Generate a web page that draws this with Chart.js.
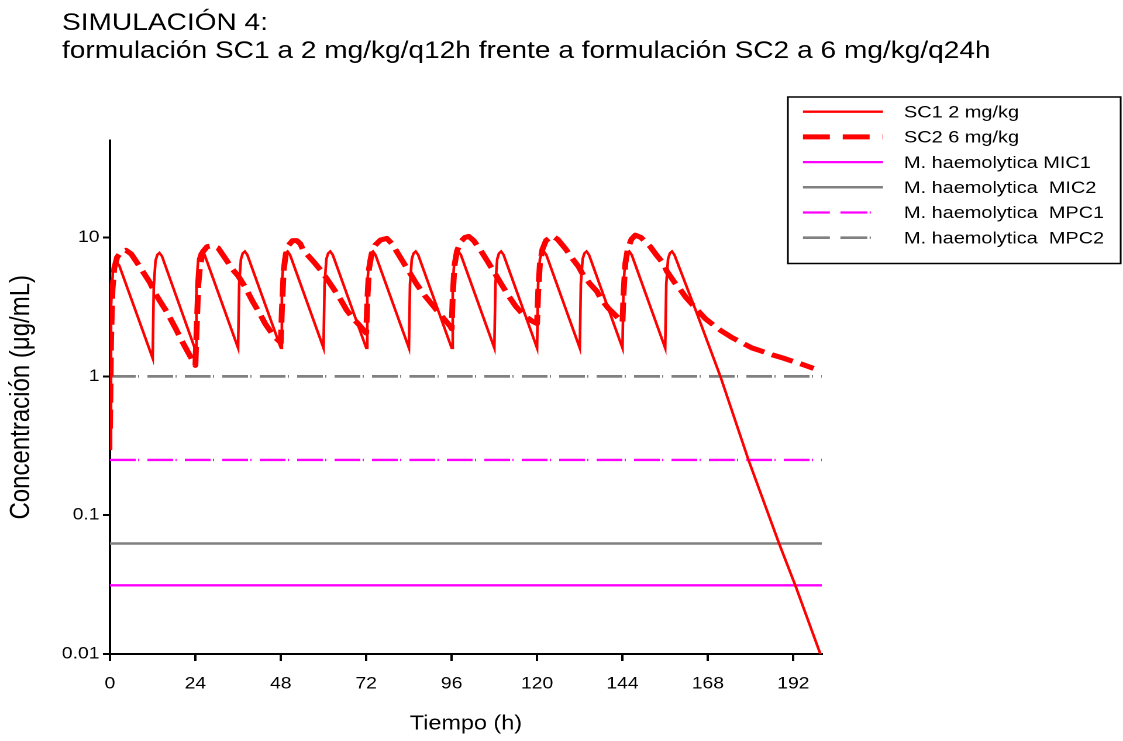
<!DOCTYPE html>
<html>
<head>
<meta charset="utf-8">
<script src="https://cdn.jsdelivr.net/npm/chart.js@4.4.1/dist/chart.umd.min.js"></script>
<style>
  html, body { margin: 0; padding: 0; background: #fff; overflow: hidden; }
  /* the reference is drawn a little wider than tall, so the whole chart is stretched sideways */
  #wrap { width: 960px; height: 741px; transform: scaleX(1.1698); transform-origin: 0 0; }
</style>
</head>
<body>
<div id="wrap"><canvas id="chart"></canvas></div>
<script>
const titleLines = [
  'SIMULACIÓN 4:',
  'formulación SC1 a 2 mg/kg/q12h frente a formulación SC2 a 6 mg/kg/q24h'
];
const xTicks = [0, 24, 48, 72, 96, 120, 144, 168, 192];
const yTicks = [0.01, 0.1, 1, 10];
const yTickLabels = ['0.01', '0.1', '1', '10'];

// SC1 2 mg/kg every 12 h (hours, µg/mL)
const sc1Hours = [
  0, 0.3, 0.8, 1.3, 1.9, 2.6,
  12, 12.3, 12.8, 13.3, 13.9, 14.6,
  24, 24.3, 24.8, 25.3, 25.9, 26.6,
  36, 36.3, 36.8, 37.3, 37.9, 38.6,
  48, 48.3, 48.8, 49.3, 49.9, 50.6,
  60, 60.3, 60.8, 61.3, 61.9, 62.6,
  72, 72.3, 72.8, 73.3, 73.9, 74.6,
  84, 84.3, 84.8, 85.3, 85.9, 86.6,
  96, 96.3, 96.8, 97.3, 97.9, 98.6,
  108, 108.3, 108.8, 109.3, 109.9, 110.6,
  120, 120.3, 120.8, 121.3, 121.9, 122.6,
  132, 132.3, 132.8, 133.3, 133.9, 134.6,
  144, 144.3, 144.8, 145.3, 145.9, 146.6,
  156, 156.3, 156.8, 157.3, 157.9, 158.6,
  165, 171.5, 179.4, 188, 192.6, 199.6
];
const sc1Conc = [
  0.3, 3.2, 5.6, 6.4, 6.6, 6.3,
  1.35, 4.4, 6.8, 7.5, 7.75, 7.35,
  1.55, 4.6, 7.0, 7.7, 7.9, 7.5,
  1.6, 4.6, 7.0, 7.7, 7.95, 7.5,
  1.6, 4.6, 7.0, 7.7, 7.95, 7.5,
  1.6, 4.6, 7.0, 7.7, 7.95, 7.5,
  1.6, 4.6, 7.0, 7.7, 7.95, 7.5,
  1.6, 4.6, 7.0, 7.7, 7.95, 7.5,
  1.6, 4.6, 7.0, 7.7, 7.95, 7.5,
  1.6, 4.6, 7.0, 7.7, 7.95, 7.5,
  1.6, 4.6, 7.0, 7.7, 7.95, 7.5,
  1.6, 4.6, 7.0, 7.7, 7.95, 7.5,
  1.6, 4.6, 7.0, 7.7, 7.95, 7.5,
  1.6, 4.6, 7.0, 7.7, 7.95, 7.5,
  2.8, 1.0, 0.25, 0.0625, 0.031, 0.01
];

// SC2 6 mg/kg every 24 h
const sc2Hours = [
  0, 0.3, 0.7, 1.2, 2, 3, 4.5, 6, 7.6, 9.4, 11.2, 12.6, 14.3, 16, 18.5, 20.2, 22,
  24, 24.3, 24.8, 25.3, 26.1, 27.3, 28.8, 30.4, 33.2, 34.2, 36, 38, 40, 42.2, 43.6, 46,
  48, 48.3, 48.8, 49.4, 50.2, 51.3, 52.5, 53.5, 54.3, 57, 59.5, 61.5, 63.3, 65, 66.5, 68.4, 70,
  72, 72.3, 72.8, 73.5, 74.5, 76, 77.8, 79.3, 80.6, 82, 84, 86.2, 88.5, 90.9, 93, 95.6,
  96, 96.3, 96.8, 97.5, 98.5, 99.7, 100.8, 102.2, 104, 106, 108, 110, 112, 114, 116, 118.6,
  120, 120.3, 120.8, 121.5, 122.5, 124.2, 125.8, 128, 130, 131.6, 133, 135, 136.8, 138, 140, 142,
  144, 144.3, 144.8, 145.5, 146.5, 147.6, 149.2, 151.8, 153.5, 155.5, 156.5, 158.5, 160.3, 161.7,
  163.8, 165.9, 167.3, 169.5, 171.5, 174.8, 177.5, 180.4, 182.7, 186, 189.3, 191.2, 194.5, 197.7
];
const sc2Conc = [
  0.42, 1.8, 4.2, 6.0, 7.2, 7.8, 8.1, 7.6, 6.6, 5.6, 4.75, 4.0, 3.4, 2.9, 2.2, 1.8, 1.48,
  1.2, 2.0, 4.5, 6.2, 7.9, 8.6, 8.75, 8.4, 6.6, 6.0, 5.3, 4.4, 3.5, 2.8, 2.4, 1.95,
  1.75, 3.0, 5.8, 7.6, 8.8, 9.5, 9.5, 9.0, 8.1, 6.8, 5.7, 4.8, 4.1, 3.5, 3.0, 2.6, 2.35,
  2.05, 3.5, 6.0, 7.6, 8.8, 9.6, 9.85, 9.0, 7.9, 6.9, 5.7, 4.6, 3.8, 3.2, 2.75, 2.3,
  2.2, 3.8, 6.3, 8.0, 9.3, 10.0, 10.2, 9.5, 8.2, 6.8, 5.6, 4.6, 3.8, 3.2, 2.8, 2.5,
  2.4, 4.0, 6.5, 8.2, 9.5, 10.3, 9.7, 8.3, 7.0, 6.2, 5.35, 4.6, 4.1, 3.6, 3.1, 2.76,
  2.45, 4.0, 6.5, 8.3, 9.7, 10.4, 10.0, 8.6, 7.5, 6.5, 5.7, 4.8, 4.2, 3.74,
  3.25, 2.84, 2.6, 2.35, 2.15, 1.9, 1.75, 1.6, 1.53, 1.43, 1.35, 1.3, 1.22, 1.14
];

// M. haemolytica thresholds
const limitHours = [0, 200];
const mic1 = 0.03125;
const mic2 = 0.0625;
const mpc1 = 0.25;
const mpc2 = 1;

const FONT = '"Liberation Sans", Arial, sans-serif';
Chart.defaults.font.family = FONT;
Chart.defaults.color = '#000';

const toPoints = (hours, values) => hours.map((h, i) => ({ x: h, y: values[i] }));
const flat = (v) => limitHours.map((h) => ({ x: h, y: v }));
const dashDot = [22, 2, 1, 7];

const headerText = {
  id: 'headerText',
  afterDraw(chart) {
    const { ctx } = chart;
    ctx.save();
    ctx.fillStyle = '#000';
    ctx.font = '24px ' + FONT;
    ctx.textBaseline = 'alphabetic';
    ctx.fillText(titleLines[0], 53, 30);
    ctx.fillText(titleLines[1], 53, 58);
    ctx.restore();
  }
};

const legendBox = {
  id: 'legendBox',
  afterDraw(chart) {
    const { ctx } = chart;
    ctx.save();
    ctx.strokeStyle = '#000';
    ctx.lineWidth = 1.5;
    ctx.strokeRect(673.5, 97, 284.5, 166.5);
    ctx.font = '17px ' + FONT;
    ctx.textBaseline = 'middle';
    ctx.fillStyle = '#000';
    chart.data.datasets.forEach((ds, i) => {
      const y = 111.7 + i * 25.2;
      ctx.beginPath();
      ctx.setLineDash(ds.legendDash || ds.borderDash || []);
      ctx.strokeStyle = ds.borderColor;
      ctx.lineWidth = ds.borderWidth;
      ctx.moveTo(686.4, y);
      ctx.lineTo(754.8, y);
      ctx.stroke();
      ctx.setLineDash([]);
      ctx.fillText(ds.label, 772.8, y + 1);
    });
    ctx.restore();
  }
};

new Chart(document.getElementById('chart'), {
  type: 'line',
  data: {
    datasets: [
      { label: 'SC1 2 mg/kg', data: toPoints(sc1Hours, sc1Conc), borderColor: '#ff0000', borderWidth: 2.3 },
      { label: 'SC2 6 mg/kg', data: toPoints(sc2Hours, sc2Conc), borderColor: '#ff0000', borderWidth: 5, borderDash: [19, 7], legendDash: [23, 11], borderJoinStyle: 'round' },
      { label: 'M. haemolytica MIC1', data: flat(mic1), borderColor: '#ff00ff', borderWidth: 2.3 },
      { label: 'M. haemolytica  MIC2', data: flat(mic2), borderColor: '#808080', borderWidth: 2.5 },
      { label: 'M. haemolytica  MPC1', data: flat(mpc1), borderColor: '#ff00ff', borderWidth: 2.3, borderDash: dashDot, legendDash: [23, 9, 23, 2, 1, 11] },
      { label: 'M. haemolytica  MPC2', data: flat(mpc2), borderColor: '#808080', borderWidth: 2.7, borderDash: dashDot, legendDash: [23, 9, 23, 2, 1, 11] }
    ]
  },
  options: {
    responsive: true,
    maintainAspectRatio: false,
    devicePixelRatio: 2,
    animation: false,
    layout: { padding: { left: 0, right: 257.5, top: 140.5, bottom: 0 } },
    elements: {
      point: { radius: 0, hoverRadius: 0 },
      line: { tension: 0, fill: false, borderCapStyle: 'butt' }
    },
    plugins: {
      legend: { display: false },
      title: { display: false },
      tooltip: { enabled: false }
    },
    scales: {
      x: {
        type: 'linear',
        min: 0,
        max: 200,
        afterBuildTicks: (scale) => { scale.ticks = xTicks.map((v) => ({ value: v })); },
        afterFit: (scale) => { scale.height = 87; },
        ticks: { font: { size: 16.5 }, padding: 13, maxRotation: 0 },
        grid: { drawOnChartArea: false, drawTicks: true, tickLength: 7, color: '#000', lineWidth: 2 },
        border: { display: true, color: '#000', width: 2 },
        title: { display: true, text: 'Tiempo (h)', font: { size: 20 }, padding: { top: 0, bottom: 5 } }
      },
      y: {
        type: 'logarithmic',
        min: 0.01,
        max: 50,
        afterBuildTicks: (scale) => { scale.ticks = yTicks.map((v) => ({ value: v })); },
        afterFit: (scale) => { scale.width = 94; },
        ticks: {
          font: { size: 16.5 },
          padding: 3,
          callback: (value) => yTickLabels[yTicks.indexOf(value)]
        },
        grid: { drawOnChartArea: false, drawTicks: true, tickLength: 6, color: '#000', lineWidth: 2 },
        border: { display: true, color: '#000', width: 2 },
        title: { display: true, text: 'Concentración (μg/mL)', font: { size: 24 }, padding: { top: 4, bottom: 0 } }
      }
    }
  },
  plugins: [headerText, legendBox]
});
</script>
</body>
</html>
